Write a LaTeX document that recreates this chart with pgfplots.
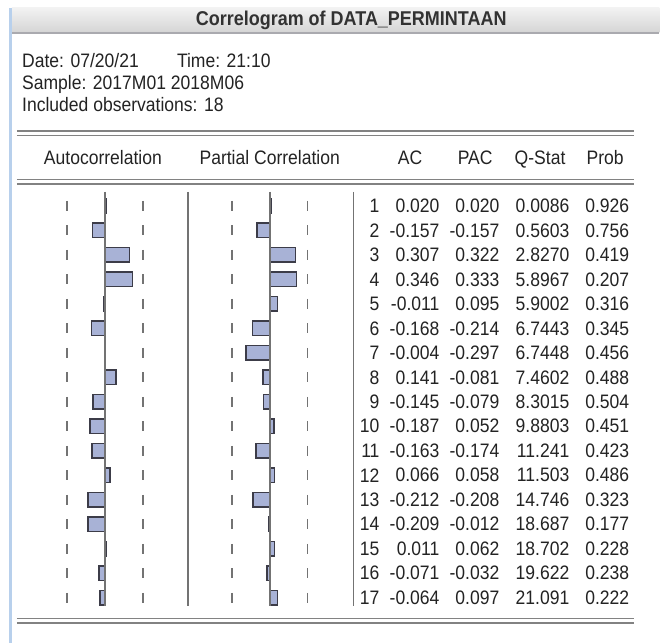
\documentclass[border=0pt]{standalone}
\usepackage{pgfplots}
\pgfplotsset{compat=1.18}
\usepackage{pgfplotstable}
\usepackage{fontspec}
\setmainfont{Liberation Sans}[FakeStretch=0.9]
\definecolor{barfill}{RGB}{168,178,214}
\definecolor{baredge}{RGB}{60,60,72}
\definecolor{txt}{RGB}{35,35,35}
\definecolor{titletxt}{RGB}{50,50,50}
\definecolor{rulec}{RGB}{130,130,130}
\definecolor{sepc}{RGB}{115,115,115}
\definecolor{tickc}{RGB}{115,115,115}
\definecolor{edgeblue}{RGB}{184,208,236}
\definecolor{titletop}{RGB}{242,242,242}
\definecolor{titlebot}{RGB}{212,212,212}
\definecolor{titleedge}{RGB}{170,170,175}

\pgfplotstableread{
lag ac pac q prob
1 0.020 0.020 0.0086 0.926
2 -0.157 -0.157 0.5603 0.756
3 0.307 0.322 2.8270 0.419
4 0.346 0.333 5.8967 0.207
5 -0.011 0.095 5.9002 0.316
6 -0.168 -0.214 6.7443 0.345
7 -0.004 -0.297 6.7448 0.456
8 0.141 -0.081 7.4602 0.488
9 -0.145 -0.079 8.3015 0.504
10 -0.187 0.052 9.8803 0.451
11 -0.163 -0.174 11.241 0.423
12 0.066 0.058 11.503 0.486
13 -0.212 -0.208 14.746 0.323
14 -0.209 -0.012 18.687 0.177
15 0.011 0.062 18.702 0.228
16 -0.071 -0.032 19.622 0.238
17 -0.064 0.097 21.091 0.222
}\corr

\pgfplotstableread{
lag lo hi
1 -0.4714 0.4714
2 -0.4714 0.4714
3 -0.4714 0.4714
4 -0.4714 0.4714
5 -0.4714 0.4714
6 -0.4714 0.4714
7 -0.4714 0.4714
8 -0.4714 0.4714
9 -0.4714 0.4714
10 -0.4714 0.4714
11 -0.4714 0.4714
12 -0.4714 0.4714
13 -0.4714 0.4714
14 -0.4714 0.4714
15 -0.4714 0.4714
16 -0.4714 0.4714
17 -0.4714 0.4714
}\bounds

\newcommand{\tfont}{\fontsize{19.5}{22}\selectfont}

\pgfplotsset{
  panel/.style={width=660pt,height=644pt,scale only axis,hide axis,clip=false,
    y dir=reverse,at={(0,0)},anchor=south west},
  lagy/.style={ymin=-7.401,ymax=18.863},
  bars/.style={xbar,bar width=0.595,fill=barfill,draw=baredge,line width=1.5pt},
  bnd/.style={only marks,mark=|,mark size=5pt,mark options={line width=1.5pt,draw=tickc}},
  col/.style={draw=none,mark=none,point meta=explicit symbolic,
    nodes near coords={\pgfplotspointmeta},
    every node near coord/.append style={anchor=east,inner sep=0pt,font=\tfont,text=txt}},
}

\begin{document}
\begin{tikzpicture}
% frame in pixel coordinates
\begin{axis}[panel,xmin=0,xmax=660,ymin=0,ymax=644]
\fill[white] (axis cs:0,0) rectangle (axis cs:660,644);
\shade[top color=titletop,bottom color=titlebot] (axis cs:12,8) rectangle (axis cs:660,33);
\draw[titleedge,line width=1.2pt] (axis cs:12,33) -- (axis cs:660,33);
\fill[edgeblue] (axis cs:9.5,8) rectangle (axis cs:12.5,644);
\node[font=\bfseries\fontsize{20}{24}\selectfont,text=titletxt] at (axis cs:351.5,20.5) {Correlogram of DATA\_PERMINTAAN};
\node[anchor=base west,font=\tfont,text=txt,inner sep=0pt] at (axis cs:22,68) {Date: 07/20/21};
\node[anchor=base west,font=\tfont,text=txt,inner sep=0pt] at (axis cs:177,68) {Time: 21:10};
\node[anchor=base west,font=\tfont,text=txt,inner sep=0pt] at (axis cs:22,90) {Sample: 2017M01 2018M06};
\node[anchor=base west,font=\tfont,text=txt,inner sep=0pt] at (axis cs:22,112) {Included observations: 18};
% double rules
\draw[rulec,line width=1.5pt] (axis cs:17,131) -- (axis cs:635,131);
\draw[rulec,line width=1.5pt] (axis cs:17,135.5) -- (axis cs:635,135.5);
\draw[rulec,line width=1.5pt] (axis cs:17,179.5) -- (axis cs:635,179.5);
\draw[rulec,line width=1.5pt] (axis cs:17,184) -- (axis cs:635,184);
\draw[rulec,line width=1.5pt] (axis cs:17,619) -- (axis cs:635,619);
\draw[rulec,line width=1.5pt] (axis cs:17,623.5) -- (axis cs:635,623.5);
% header
\node[anchor=base,font=\tfont,text=txt,inner sep=0pt] at (axis cs:103,165) {Autocorrelation};
\node[anchor=base,font=\tfont,text=txt,inner sep=0pt] at (axis cs:270,165) {Partial Correlation};
\node[anchor=base west,font=\tfont,text=txt,inner sep=0pt] at (axis cs:398,165) {AC};
\node[anchor=base west,font=\tfont,text=txt,inner sep=0pt] at (axis cs:458,165) {PAC};
\node[anchor=base west,font=\tfont,text=txt,inner sep=0pt] at (axis cs:515,165) {Q-Stat};
\node[anchor=base west,font=\tfont,text=txt,inner sep=0pt] at (axis cs:587,165) {Prob};
% separators
\draw[sepc,line width=1.5pt] (axis cs:188,192) -- (axis cs:188,607);
\draw[sepc,line width=1.5pt] (axis cs:354,192) -- (axis cs:354,607);
\end{axis}

% Autocorrelation panel
\begin{axis}[panel,lagy,xmin=-1.3043,xmax=6.8944]
\addplot[bnd] table[x=lo,y=lag]{\bounds};
\addplot[bnd] table[x=hi,y=lag]{\bounds};
\addplot[bars] table[x=ac,y=lag]{\corr};
\addplot[draw=sepc,line width=1.5pt] coordinates {(0,0.43) (0,17.35)};
\end{axis}

% Partial correlation panel
\begin{axis}[panel,lagy,xmin=-3.3540,xmax=4.8447]
\addplot[bnd] table[x=lo,y=lag]{\bounds};
\addplot[bnd] table[x=hi,y=lag]{\bounds};
\addplot[bars] table[x=pac,y=lag]{\corr};
\addplot[draw=sepc,line width=1.5pt] coordinates {(0,0.43) (0,17.35)};
\end{axis}

% table
\begin{axis}[panel,lagy,xmin=0,xmax=660]
\addplot[col] table[x expr=380,y=lag,meta=lag]{\corr};
\addplot[col] table[x expr=440,y=lag,meta=ac]{\corr};
\addplot[col] table[x expr=500,y=lag,meta=pac]{\corr};
\addplot[col] table[x expr=570,y=lag,meta=q]{\corr};
\addplot[col] table[x expr=630,y=lag,meta=prob]{\corr};
\end{axis}
\end{tikzpicture}
\end{document}
